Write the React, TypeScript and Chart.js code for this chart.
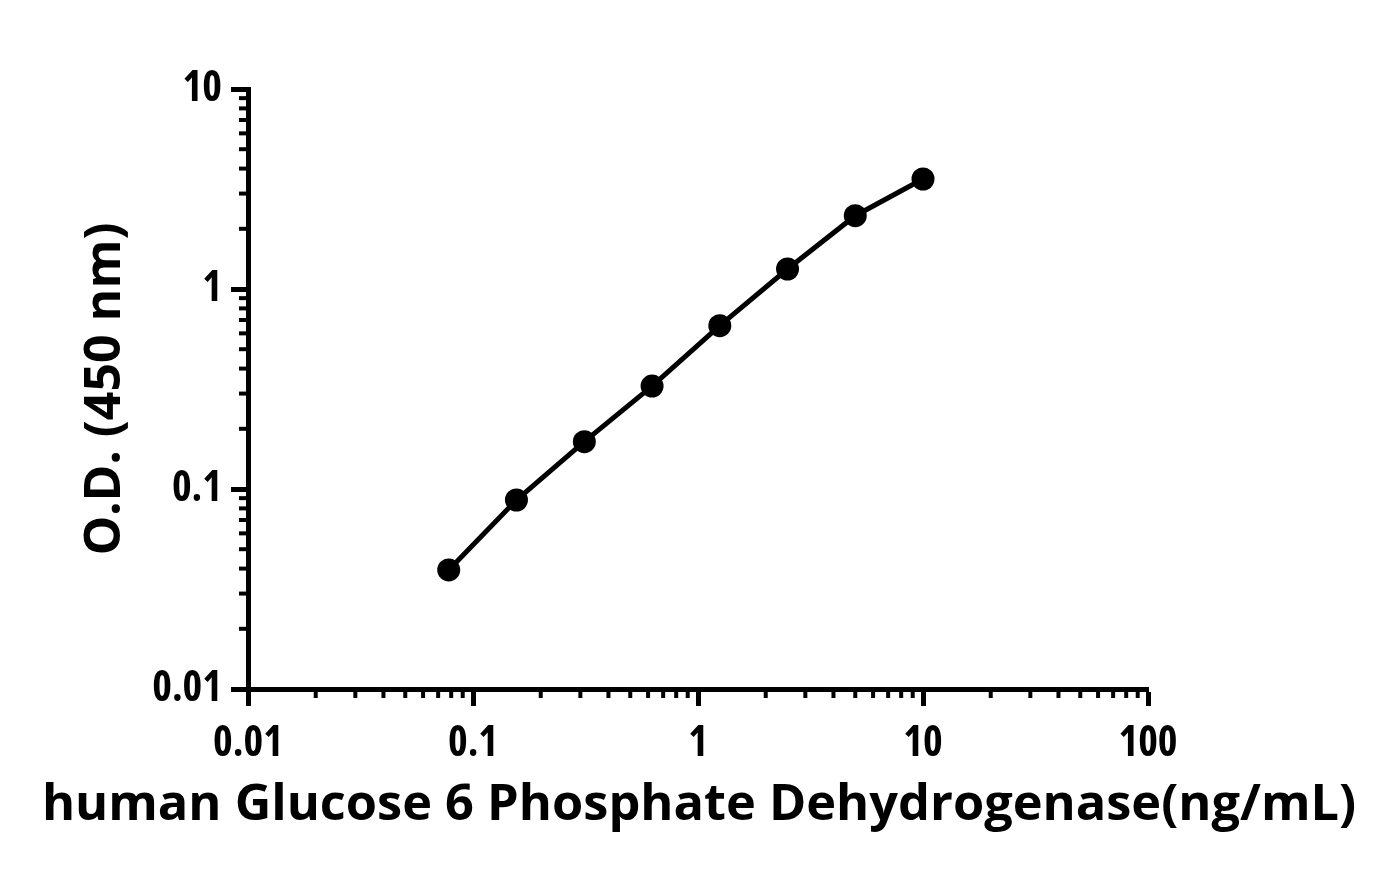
import React, { useEffect, useRef } from "react";
import { Chart, registerables } from "chart.js";

Chart.register(...registerables);

// ---- Data ----
const concentrations = [0.078, 0.156, 0.3125, 0.625, 1.25, 2.5, 5, 10];
const odValues = [0.0394, 0.0881, 0.1724, 0.327, 0.6556, 1.259, 2.326, 3.548];
const xTickValues = [0.01, 0.1, 1, 10, 100];
const xTickLabels = ["0.01", "0.1", "1", "10", "100"];
const yTickValues = [0.01, 0.1, 1, 10];
const yTickLabels = ["0.01", "0.1", "1", "10"];
const xTitle = "human Glucose 6 Phosphate Dehydrogenase(ng/mL)";
const yTitle = "O.D. (450 nm)";

const TICK_FONT = "'Open Sans', 'Liberation Sans', sans-serif";
const TITLE_FONT = "'Open Sans', 'DejaVu Sans', sans-serif";

const minorTicksPlugin = {
  id: "minorTicks",
  afterDraw(chart: any) {
    const ctx = chart.ctx;
    const xs = chart.scales.x;
    const ys = chart.scales.y;
    ctx.save();
    ctx.strokeStyle = "#000";
    ctx.lineWidth = 4;
    ctx.lineCap = "butt";
    for (const d of xTickValues.slice(0, -1)) {
      for (let m = 2; m <= 9; m++) {
        const px = xs.getPixelForValue(d * m);
        ctx.beginPath();
        ctx.moveTo(px, xs.top);
        ctx.lineTo(px, xs.top + 9);
        ctx.stroke();
      }
    }
    for (const d of yTickValues.slice(0, -1)) {
      for (let m = 2; m <= 9; m++) {
        const py = ys.getPixelForValue(d * m);
        ctx.beginPath();
        ctx.moveTo(ys.right, py);
        ctx.lineTo(ys.right - 9, py);
        ctx.stroke();
      }
    }
    ctx.restore();
  },
};

export default function App() {
  const canvasRef = useRef<HTMLCanvasElement | null>(null);

  useEffect(() => {
    if (!canvasRef.current) return;
    const chart = new Chart(canvasRef.current, {
      type: "line",
      data: {
        datasets: [
          {
            data: concentrations.map((c, i) => ({ x: c, y: odValues[i] })),
            borderColor: "#000",
            backgroundColor: "#000",
            borderWidth: 5,
            pointRadius: 11.5,
            pointHoverRadius: 11.5,
            pointBackgroundColor: "#000",
            pointBorderColor: "#000",
            pointBorderWidth: 0,
            tension: 0,
            fill: false,
          },
        ],
      },
      options: {
        animation: false,
        responsive: false,
        maintainAspectRatio: false,
        layout: { padding: { left: 0, right: 0, top: 89, bottom: 0 } },
        plugins: {
          legend: { display: false },
          tooltip: { enabled: false },
          title: {
            display: true,
            position: "bottom",
            text: xTitle,
            color: "#000",
            font: { family: TITLE_FONT, size: 50.5, weight: "bold", lineHeight: 1.2 },
            padding: { top: 0, bottom: 37 },
          },
        },
        scales: {
          x: {
            type: "logarithmic",
            position: "bottom",
            min: 0.01,
            max: 100,
            afterBuildTicks: (s: any) => {
              s.ticks = xTickValues.map((v) => ({ value: v }));
            },
            afterFit: (s: any) => {
              s.height = 873 - 689 - 97.6;
            },
            ticks: {
              autoSkip: false,
              maxRotation: 0,
              color: "#000",
              padding: 13,
              font: { family: TICK_FONT, size: 42, weight: "bold condensed" },
              callback: (_v: any, i: number) => xTickLabels[i],
            },
            grid: {
              drawOnChartArea: false,
              drawTicks: true,
              tickLength: 17,
              tickWidth: 5,
              tickColor: "#000",
            },
            border: { display: true, width: 5, color: "#000" },
          },
          y: {
            type: "logarithmic",
            position: "left",
            min: 0.01,
            max: 10,
            afterBuildTicks: (s: any) => {
              s.ticks = yTickValues.map((v) => ({ value: v }));
            },
            afterFit: (s: any) => {
              s.width = 248;
            },
            ticks: {
              autoSkip: false,
              color: "#000",
              padding: 9,
              font: { family: TICK_FONT, size: 42, weight: "bold condensed" },
              callback: (_v: any, i: number) => yTickLabels[i],
            },
            grid: {
              drawOnChartArea: false,
              drawTicks: true,
              tickLength: 17,
              tickWidth: 5,
              tickColor: "#000",
            },
            border: { display: true, width: 5, color: "#000" },
            title: {
              display: true,
              text: yTitle,
              color: "#000",
              font: { family: TITLE_FONT, size: 50, weight: "bold", lineHeight: 1.2 },
              padding: { top: 76, bottom: 0 },
            },
          },
          spacer: {
            type: "linear",
            position: "right",
            display: true,
            afterFit: (s: any) => {
              s.width = 250;
            },
            ticks: { display: false },
            grid: { display: false },
            border: { display: false },
          },
        },
      },
      plugins: [minorTicksPlugin],
    });
    return () => chart.destroy();
  }, []);

  return (
    <div style={{ position: "fixed", left: 0, top: 0, width: 1398, height: 873, background: "#fff" }}>
      <canvas ref={canvasRef} width={1398} height={873} style={{ display: "block" }} />
    </div>
  );
}
